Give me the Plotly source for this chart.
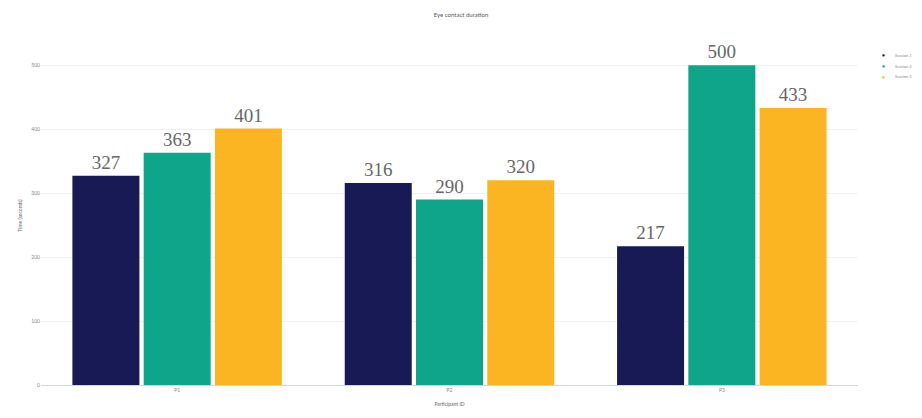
import plotly.graph_objects as go

# Eye contact duration per participant, three sessions
participants = ["P1", "P2", "P3"]
session_names = ["Session 1", "Session 2", "Session 3"]
session_1 = [327, 316, 217]
session_2 = [363, 290, 500]
session_3 = [401, 320, 433]
y_ticks = [0, 100, 200, 300, 400, 500]

colors = ["#171a55", "#0ea58a", "#fbb522"]
series = [session_1, session_2, session_3]

fig = go.Figure()
for name, vals, col in zip(session_names, series, colors):
    fig.add_trace(go.Bar(
        x=participants, y=vals, name=name, showlegend=False,
        marker=dict(color=col, line=dict(width=0)),
        text=[str(v) for v in vals], textposition="outside",
        textfont=dict(family="Liberation Serif, Times New Roman, serif", size=19, color="#666666"),
        cliponaxis=False,
    ))

# compact legend: a small dot and a label per session, stacked at the top right
W, H = 922, 418
m = dict(l=41, r=64, t=46, b=33)
plot_w = W - m["l"] - m["r"]
plot_h = H - m["t"] - m["b"]
dot_x = (883 - m["l"]) / plot_w
label_x = (893 - m["l"]) / plot_w
for i, (name, col) in enumerate(zip(session_names, colors)):
    y_px = 55 + 11 * i
    y_paper = (H - m["b"] - y_px) / plot_h
    fig.add_annotation(x=dot_x, y=y_paper, xref="paper", yref="paper", text="●",
                       showarrow=False, xanchor="center", yanchor="middle",
                       font=dict(size=5, color=col))
    fig.add_annotation(x=label_x, y=y_paper, xref="paper", yref="paper", text=name,
                       showarrow=False, xanchor="left", yanchor="middle",
                       font=dict(size=4, color="#888"))

fig.update_layout(
    width=W, height=H,
    margin=dict(**m, autoexpand=False),
    paper_bgcolor="white", plot_bgcolor="white",
    barmode="group", bargap=0.215, bargroupgap=0.06,
    font=dict(family="Lato, sans-serif", size=5, color="#777"),
    title=dict(text="Eye contact duration", x=0.5, xanchor="center", y=0.965, yanchor="middle",
               font=dict(size=6, color="#555")),
    showlegend=False,
    xaxis=dict(showline=True, linecolor="#d4d4e4", linewidth=1, ticks="", tickfont=dict(size=5, color="#888"),
               title=dict(text="Participant ID", font=dict(size=5, color="#666"), standoff=10)),
    yaxis=dict(range=[0, 530], tickvals=y_ticks, showgrid=True, gridcolor="#f1f1f1", zeroline=False,
               tickfont=dict(size=5, color="#888"),
               title=dict(text="Time (seconds)", font=dict(size=5, color="#666"), standoff=8)),
)

fig.write_html("out.html")
